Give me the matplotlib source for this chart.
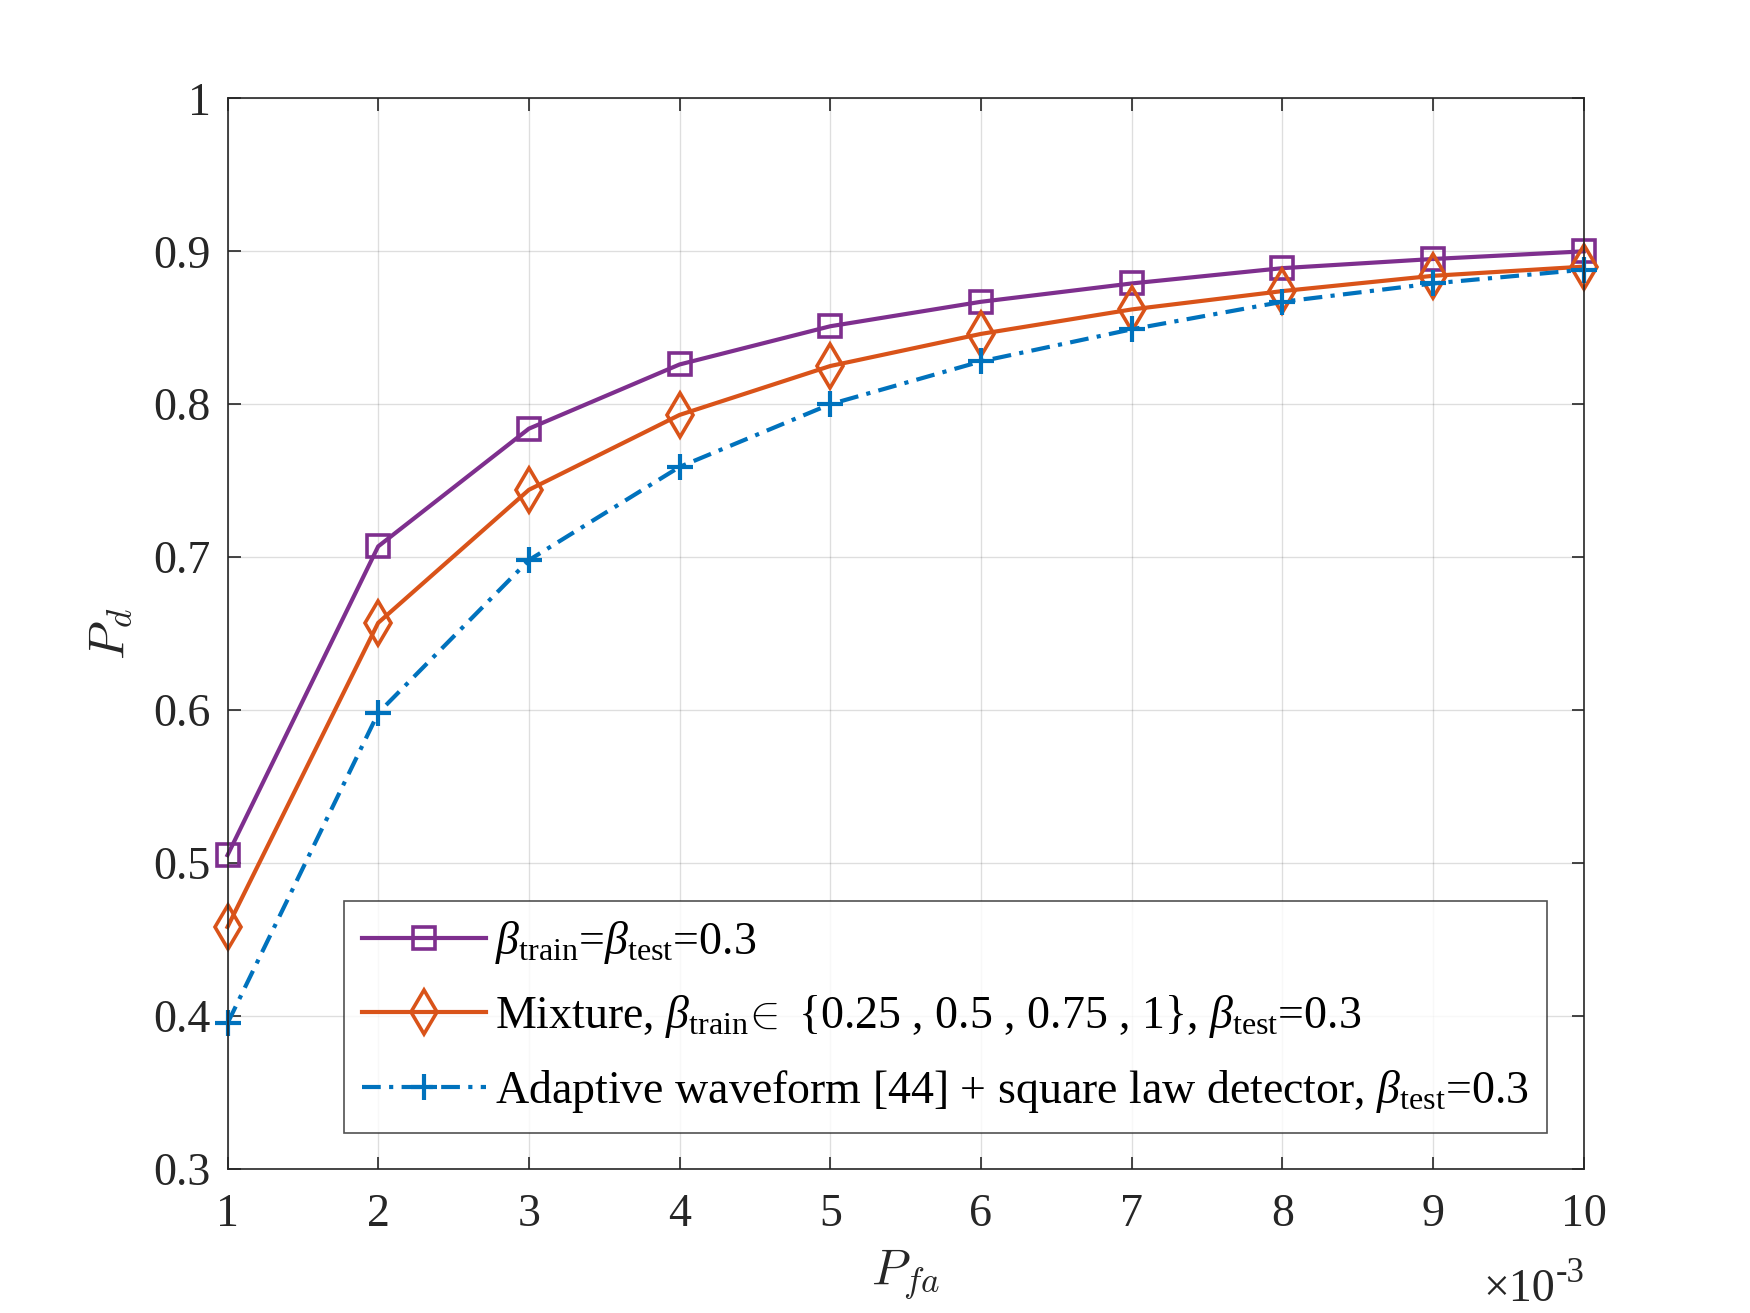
import numpy as np
import matplotlib
matplotlib.use("Agg")
import matplotlib.pyplot as plt

# P_fa in units of 1e-3
pfa = [1, 2, 3, 4, 5, 6, 7, 8, 9, 10]
pd_same = [0.505, 0.707, 0.784, 0.826, 0.851, 0.867, 0.879, 0.889, 0.895, 0.900]
pd_mixture = [0.458, 0.657, 0.744, 0.793, 0.825, 0.846, 0.862, 0.874, 0.884, 0.890]
pd_adaptive = [0.395, 0.598, 0.698, 0.759, 0.800, 0.828, 0.849, 0.867, 0.879, 0.888]

labels = [
    r'$\beta_{\mathrm{train}}$=$\beta_{\mathrm{test}}$=0.3',
    r'Mixture, $\beta_{\mathrm{train}}\!\in$ {0.25 , 0.5 , 0.75 , 1}, $\beta_{\mathrm{test}}$=0.3',
    r'Adaptive waveform [44] + square law detector, $\beta_{\mathrm{test}}$=0.3',
]

plt.rcParams['font.family'] = ['Liberation Serif', 'DejaVu Serif']
plt.rcParams['mathtext.fontset'] = 'custom'
plt.rcParams['mathtext.rm'] = 'Liberation Serif'
plt.rcParams['mathtext.it'] = 'Liberation Serif:italic'
plt.rcParams['mathtext.bf'] = 'Liberation Serif:bold'

axcol = '#262626'
fs = 16.5

fig = plt.figure(figsize=(8.75, 6.565), dpi=200)
ax = fig.add_axes([0.13, 0.11, 0.775, 0.815])

ax.plot(pfa, pd_same, '-', color='#7E2F8E', lw=1.5, marker='s', ms=8,
        mfc='none', mew=1.3, label=labels[0], clip_on=False, zorder=3)
ax.plot(pfa, pd_mixture, '-', color='#D95319', lw=1.5, marker='d', ms=11,
        mfc='none', mew=1.3, label=labels[1], clip_on=False, zorder=3)
ax.plot(pfa, pd_adaptive, color='#0072BD', lw=1.5, marker='+', ms=9.5,
        mew=1.5, dashes=(4.5, 2, 1, 2), label=labels[2], clip_on=False, zorder=3)

ax.set_xlim(1, 10)
ax.set_ylim(0.3, 1)
ax.set_xticks(range(1, 11))
ax.set_yticks(np.arange(0.3, 1.01, 0.1))
ax.set_yticklabels(['0.3', '0.4', '0.5', '0.6', '0.7', '0.8', '0.9', '1'])

ax.grid(True, color=axcol, alpha=0.15, lw=0.5)
ax.tick_params(direction='in', top=True, right=True, length=4.5, width=0.6,
               colors=axcol, labelsize=fs)
ax.tick_params(axis='x', pad=9)
ax.tick_params(axis='y', pad=6)
for s in ax.spines.values():
    s.set_color(axcol)
    s.set_linewidth(0.6)
    s.set_zorder(4)

ax.set_xlabel(r'$P_{fa}$', fontsize=18, math_fontfamily='cm', color=axcol, labelpad=4)
ax.set_ylabel(r'$P_d$', fontsize=18, math_fontfamily='cm', color=axcol, labelpad=7)
ax.text(0.979, -0.093, '×10', transform=ax.transAxes,
        ha='right', va='top', fontsize=fs, color=axcol)
ax.text(0.979, -0.083, '-3', transform=ax.transAxes,
        ha='left', va='top', fontsize=12.5, color=axcol)

leg = ax.legend(loc='lower right', bbox_to_anchor=(0.973, 0.033), fontsize=fs,
                handlelength=2.7, handletextpad=0.2, labelspacing=0.6,
                borderaxespad=0, frameon=True, fancybox=False, borderpad=0.4)
leg.get_frame().set_edgecolor(axcol)
leg.get_frame().set_linewidth(0.6)
leg.set_zorder(5)

fig.savefig('out.png', dpi=200)
